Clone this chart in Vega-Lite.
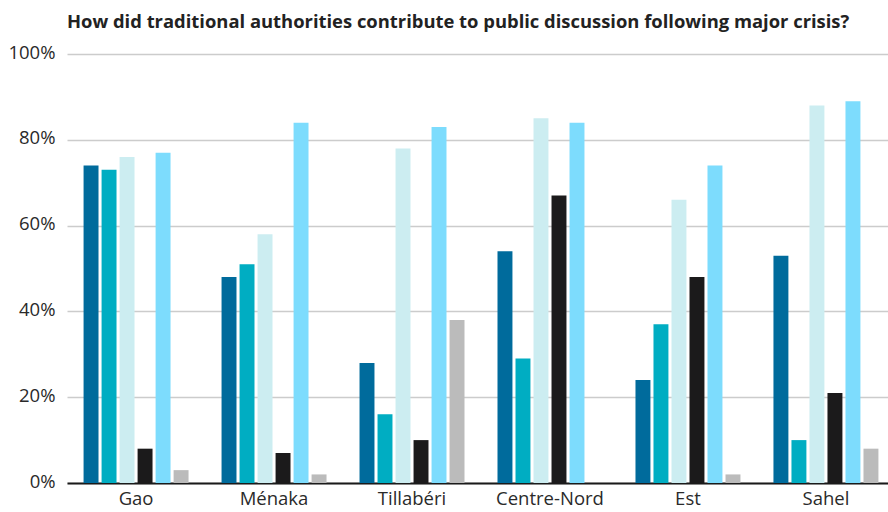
{
  "$schema": "https://vega.github.io/schema/vega-lite/v6.json",
  "width": 828,
  "height": 429,
  "autosize": "none",
  "padding": {"left": 67, "top": 54, "right": 0, "bottom": 29},
  "background": "white",
  "title": {
    "text": "How did traditional authorities contribute to public discussion following major crisis?",
    "anchor": "start",
    "frame": "group",
    "font": "Open Sans",
    "fontSize": 18.4,
    "fontWeight": "bold",
    "color": "#222222",
    "offset": 12
  },
  "data": {
    "values": [
      {"region": "Gao", "series": "S1", "value": 74},
      {"region": "Gao", "series": "S2", "value": 73},
      {"region": "Gao", "series": "S3", "value": 76},
      {"region": "Gao", "series": "S4", "value": 8},
      {"region": "Gao", "series": "S5", "value": 77},
      {"region": "Gao", "series": "S6", "value": 3},
      {"region": "Ménaka", "series": "S1", "value": 48},
      {"region": "Ménaka", "series": "S2", "value": 51},
      {"region": "Ménaka", "series": "S3", "value": 58},
      {"region": "Ménaka", "series": "S4", "value": 7},
      {"region": "Ménaka", "series": "S5", "value": 84},
      {"region": "Ménaka", "series": "S6", "value": 2},
      {"region": "Tillabéri", "series": "S1", "value": 28},
      {"region": "Tillabéri", "series": "S2", "value": 16},
      {"region": "Tillabéri", "series": "S3", "value": 78},
      {"region": "Tillabéri", "series": "S4", "value": 10},
      {"region": "Tillabéri", "series": "S5", "value": 83},
      {"region": "Tillabéri", "series": "S6", "value": 38},
      {"region": "Centre-Nord", "series": "S1", "value": 54},
      {"region": "Centre-Nord", "series": "S2", "value": 29},
      {"region": "Centre-Nord", "series": "S3", "value": 85},
      {"region": "Centre-Nord", "series": "S4", "value": 67},
      {"region": "Centre-Nord", "series": "S5", "value": 84},
      {"region": "Centre-Nord", "series": "S6", "value": 0},
      {"region": "Est", "series": "S1", "value": 24},
      {"region": "Est", "series": "S2", "value": 37},
      {"region": "Est", "series": "S3", "value": 66},
      {"region": "Est", "series": "S4", "value": 48},
      {"region": "Est", "series": "S5", "value": 74},
      {"region": "Est", "series": "S6", "value": 2},
      {"region": "Sahel", "series": "S1", "value": 53},
      {"region": "Sahel", "series": "S2", "value": 10},
      {"region": "Sahel", "series": "S3", "value": 88},
      {"region": "Sahel", "series": "S4", "value": 21},
      {"region": "Sahel", "series": "S5", "value": 89},
      {"region": "Sahel", "series": "S6", "value": 8}
    ]
  },
  "mark": {"type": "bar"},
  "encoding": {
    "x": {
      "field": "region",
      "type": "nominal",
      "sort": null,
      "scale": {"paddingInner": 0.217, "paddingOuter": 0.109},
      "axis": {
        "title": null,
        "labelAngle": 0,
        "ticks": false,
        "domainColor": "#1a1a1a",
        "domainWidth": 2,
        "labelFont": "Open Sans",
        "labelFontSize": 18.5,
        "labelColor": "#2a2a2a",
        "labelPadding": 6,
        "grid": false
      }
    },
    "xOffset": {
      "field": "series",
      "type": "nominal",
      "scale": {"paddingInner": 0.17, "paddingOuter": 0.085}
    },
    "y": {
      "field": "value",
      "type": "quantitative",
      "scale": {"domain": [0, 100]},
      "axis": {
        "title": null,
        "values": [0, 20, 40, 60, 80, 100],
        "labelExpr": "datum.value + '%'",
        "domain": false,
        "ticks": false,
        "gridColor": "#cccccc",
        "gridWidth": 1.5,
        "labelFont": "Open Sans",
        "labelFontSize": 18.5,
        "labelColor": "#2a2a2a",
        "labelPadding": 12,
        "labelBaseline": "middle",
        "labelOffset": -2
      }
    },
    "color": {
      "field": "series",
      "type": "nominal",
      "legend": null,
      "scale": {
        "domain": ["S1", "S2", "S3", "S4", "S5", "S6"],
        "range": ["#006b9c", "#00adc2", "#ccedf1", "#1b1a1b", "#7ddcfd", "#bbbbbb"]
      }
    }
  },
  "config": {"view": {"stroke": null}}
}
